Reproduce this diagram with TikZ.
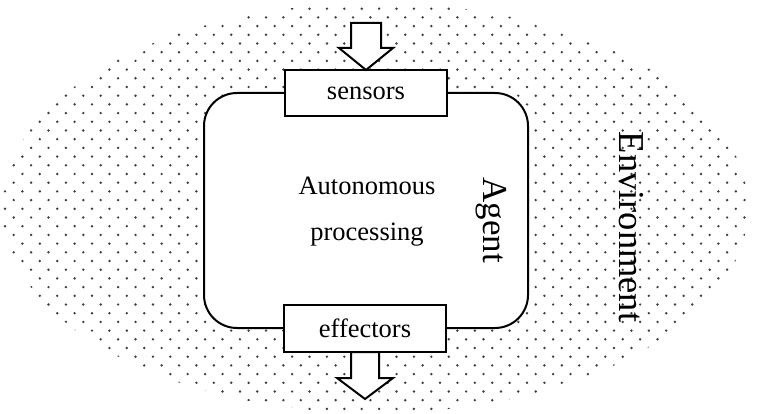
\documentclass[tikz,border=0pt]{standalone}
\usepackage{fontspec}
\setmainfont{Liberation Serif}
\begin{document}
\begin{tikzpicture}[x=1pt,y=-1pt,
  agentbox/.style={draw, line width=2pt, rounded corners=33pt, fill=white,
    minimum width=324pt, minimum height=235pt, inner sep=0pt, outer sep=0pt},
  iobox/.style={draw, line width=2.4pt, fill=white, minimum width=162pt,
    minimum height=46pt, inner sep=0pt, outer sep=0pt,
    font=\fontsize{26.5}{30}\selectfont},
  bigtext/.style={font=\fontsize{35}{40}\selectfont, rotate=-90, inner sep=0pt},
  proctext/.style={align=center, font=\fontsize{26.5}{46}\selectfont, inner sep=0pt},
  arrowline/.style={draw, line width=2pt, fill=white, line join=miter},
  dotcol/.style={fill=black!75}]
\useasboundingbox (0,0) rectangle (757,414);
% environment: dotted ellipse
\begin{scope}
  \clip (375,208) ellipse [x radius=373pt, y radius=205pt];
  \fill[dotcol] \foreach \j in {0,...,48} { \foreach \i in {0,...,43} {
     ({17.4*\i + 8.7*mod(\j,2) + 5}, {8.7*\j}) circle (1.35pt) } };
\end{scope}
% agent
\node[agentbox] (agent) at (366,210.5) {};
\node[iobox] (sensors) at (366,93) {sensors};
\node[iobox, minimum height=47pt] (effectors) at (365,328.5) {effectors};
\node[proctext] (proc) at (367,212) {Autonomous\\processing};
\node[bigtext] (agentlabel) at (491,220) {Agent};
\node[bigtext, font=\fontsize{36.5}{40}\selectfont] (env) at (631,227) {Environment};
% input arrow
\draw[arrowline] (sensors.north) -- ++(-27,-22) -- ++(12,0) -- ++(0,-25)
  -- ++(30,0) -- ++(0,25) -- ++(12,0) -- cycle;
% output arrow
\draw[arrowline] ([xshift=-14pt]effectors.south) -- ++(0,26) -- ++(-14,0)
  -- ++(28,21) -- ++(28,-21) -- ++(-14,0) -- ++(0,-26) -- cycle;
\end{tikzpicture}
\end{document}
